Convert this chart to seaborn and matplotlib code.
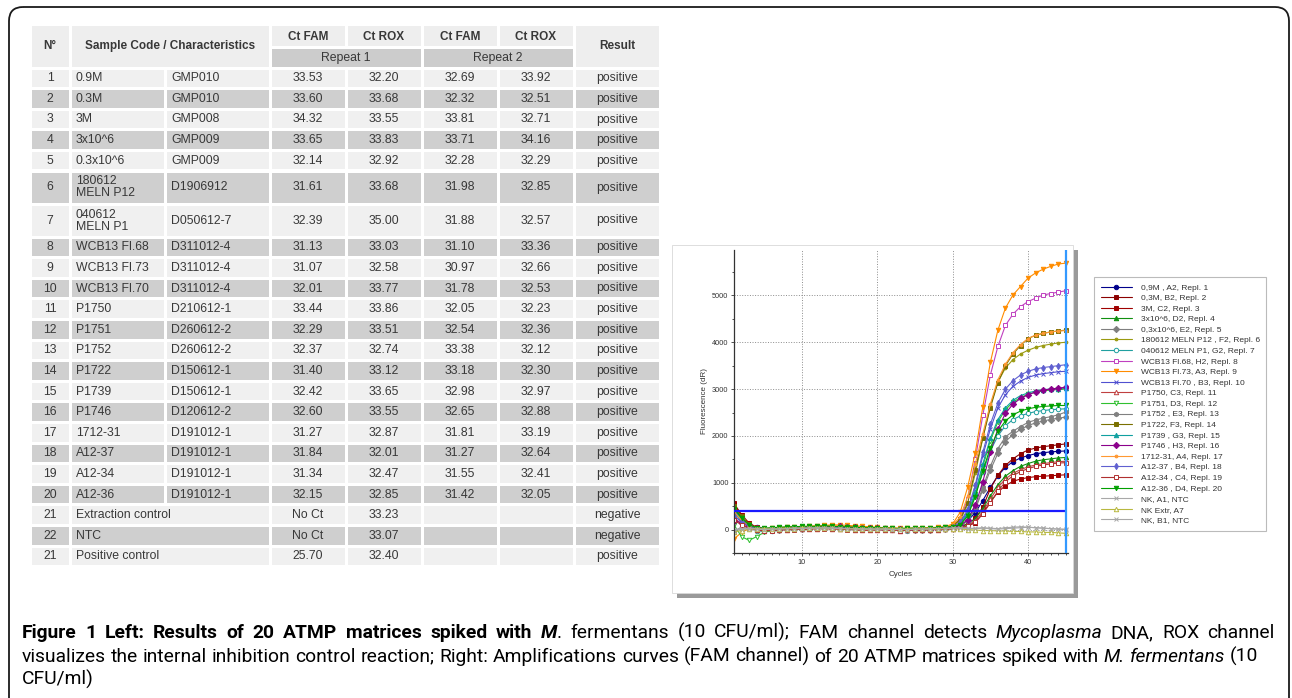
import re
import numpy as np
import pandas as pd
import seaborn as sns
import matplotlib.pyplot as plt
from matplotlib.patches import Rectangle, FancyBboxPatch
from matplotlib import font_manager

## Table data (left panel)
nums = [1, 2, 3, 4, 5, 6, 7, 8, 9, 10, 11, 12, 13, 14, 15, 16, 17, 18, 19, 20, 21, 22, 21]
names = ['0.9M', '0.3M', '3M', '3x10^6', '0.3x10^6', '180612\nMELN P12', '040612\nMELN P1',
         'WCB13 Fl.68', 'WCB13 Fl.73', 'WCB13 Fl.70', 'P1750', 'P1751', 'P1752', 'P1722',
         'P1739', 'P1746', '1712-31', 'A12-37', 'A12-34', 'A12-36',
         'Extraction control', 'NTC', 'Positive control']
codes = ['GMP010', 'GMP010', 'GMP008', 'GMP009', 'GMP009', 'D1906912', 'D050612-7',
         'D311012-4', 'D311012-4', 'D311012-4', 'D210612-1', 'D260612-2', 'D260612-2',
         'D150612-1', 'D150612-1', 'D120612-2', 'D191012-1', 'D191012-1', 'D191012-1',
         'D191012-1', '', '', '']
fam1 = ['33.53', '33.60', '34.32', '33.65', '32.14', '31.61', '32.39', '31.13', '31.07', '32.01',
        '33.44', '32.29', '32.37', '31.40', '32.42', '32.60', '31.27', '31.84', '31.34', '32.15',
        'No Ct', 'No Ct', '25.70']
rox1 = ['32.20', '33.68', '33.55', '33.83', '32.92', '33.68', '35.00', '33.03', '32.58', '33.77',
        '33.86', '33.51', '32.74', '33.12', '33.65', '33.55', '32.87', '32.01', '32.47', '32.85',
        '33.23', '33.07', '32.40']
fam2 = ['32.69', '32.32', '33.81', '33.71', '32.28', '31.98', '31.88', '31.10', '30.97', '31.78',
        '32.05', '32.54', '33.38', '33.18', '32.98', '32.65', '31.81', '31.27', '31.55', '31.42',
        '', '', '']
rox2 = ['33.92', '32.51', '32.71', '34.16', '32.29', '32.85', '32.57', '33.36', '32.66', '32.53',
        '32.23', '32.36', '32.12', '32.30', '32.97', '32.88', '33.19', '32.64', '32.41', '32.05',
        '', '', '']
results = ['positive'] * 20 + ['negative', 'negative', 'positive']

## Amplification curves (right panel), fluorescence dR per cycle
cycles = list(range(1, 46))
threshold = 400
s01 = [450, 250, 110, 50, 20, 10, 20, 30, 30, 40, 40, 50, 50, 60, 50, 40, 40, 30, 30, 20, 30, 20, 10, 10, 20, 10, 20, 30, 40, 60,
       100, 190, 360, 620, 900, 1150, 1330, 1450, 1530, 1580, 1620, 1640, 1660, 1670, 1680]
s02 = [520, 300, 120, 40, 10, 0, 10, 20, 30, 30, 40, 40, 50, 40, 30, 20, 20, 10, 10, 20, 20, 10, 0, 0, 10, 0, 10, 20, 30, 50,
       70, 120, 240, 480, 870, 1160, 1370, 1510, 1620, 1700, 1740, 1770, 1790, 1810, 1830]
s03 = [560, 320, 140, 50, 20, 10, 0, 10, 20, 20, 30, 30, 40, 30, 20, 20, 10, 0, 0, 10, 10, 0, -10, 0, 10, 0, 0, 10, 20, 20,
       40, 70, 150, 340, 590, 800, 940, 1030, 1080, 1110, 1130, 1140, 1150, 1160, 1170]
s04 = [480, 260, 100, 30, 0, 10, 20, 30, 30, 40, 40, 40, 50, 40, 40, 30, 30, 20, 20, 30, 20, 20, 10, 10, 10, 20, 20, 20, 30, 40,
       60, 110, 230, 450, 720, 960, 1140, 1260, 1350, 1410, 1460, 1490, 1510, 1530, 1540]
s05 = [400, 220, 80, 20, 0, -10, 0, 10, 20, 20, 30, 40, 40, 40, 30, 30, 20, 20, 10, 10, 20, 10, 0, 10, 0, -10, 0, 10, 20, 30,
       80, 190, 430, 850, 1270, 1630, 1880, 2030, 2140, 2220, 2280, 2320, 2350, 2380, 2400]
s06 = [350, 200, 90, 30, 20, 20, 30, 40, 40, 40, 50, 60, 60, 60, 50, 50, 40, 40, 30, 30, 30, 20, 20, 20, 30, 20, 30, 40, 50, 70,
       200, 540, 1200, 1950, 2650, 3150, 3450, 3630, 3750, 3830, 3890, 3930, 3960, 3985, 4000]
s07 = [380, 180, 60, -20, -40, -20, 0, 10, 20, 30, 30, 40, 40, 30, 30, 20, 20, 10, 20, 20, 10, 10, 0, 0, 10, 10, 10, 20, 30, 40,
       120, 320, 740, 1220, 1680, 2000, 2220, 2350, 2430, 2480, 2520, 2540, 2560, 2570, 2580]
s08 = [420, 240, 100, 30, 10, 10, 20, 30, 30, 40, 50, 50, 60, 50, 50, 40, 40, 30, 30, 30, 20, 20, 10, 20, 20, 10, 20, 30, 40, 80,
       230, 660, 1500, 2440, 3300, 3910, 4360, 4600, 4760, 4870, 4940, 5010, 5040, 5070, 5100]
s09 = [-200, -60, 20, 30, 20, 30, 40, 50, 60, 60, 70, 80, 90, 100, 100, 90, 80, 70, 60, 50, 40, 40, 30, 30, 30, 40, 40, 50, 60, 120,
       370, 910, 1640, 2620, 3570, 4260, 4730, 5010, 5190, 5370, 5480, 5560, 5620, 5670, 5690]
s10 = [300, 160, 60, 10, -10, 0, 10, 20, 20, 30, 30, 40, 40, 40, 30, 30, 20, 20, 20, 10, 10, 10, 0, 0, 0, 10, 10, 20, 30, 50,
       140, 390, 900, 1580, 2150, 2600, 2880, 3060, 3170, 3250, 3300, 3330, 3350, 3370, 3380]
s11 = [250, 120, 40, 0, -20, -10, 0, 0, 10, 10, 20, 20, 30, 20, 20, 10, 0, -10, -10, 0, 0, -10, -20, -10, 0, -10, 0, 0, 10, 20,
       40, 80, 190, 390, 650, 900, 1080, 1200, 1280, 1340, 1380, 1410, 1430, 1450, 1460]
s12 = [100, -150, -230, -150, -60, -20, 0, 10, 20, 30, 30, 40, 50, 40, 40, 30, 30, 20, 20, 20, 10, 10, 0, 10, 10, 0, 10, 20, 30, 40,
       110, 310, 760, 1350, 1900, 2300, 2560, 2720, 2820, 2890, 2930, 2960, 2980, 2990, 3000]
s13 = [-50, 60, 50, 20, 0, 0, 10, 20, 30, 30, 40, 40, 40, 30, 30, 20, 20, 10, 10, 10, 10, 0, -10, -20, -10, -10, 0, 10, 10, 30,
       70, 180, 460, 900, 1350, 1730, 1980, 2100, 2200, 2290, 2340, 2380, 2410, 2450, 2510]
s14 = [500, 280, 120, 40, 10, 10, 20, 30, 40, 40, 50, 50, 60, 50, 40, 40, 30, 30, 20, 20, 20, 10, 10, 10, 20, 20, 20, 30, 50, 80,
       220, 570, 1280, 1960, 2600, 3140, 3500, 3750, 3930, 4080, 4150, 4190, 4220, 4240, 4260]
s15 = [420, 230, 90, 20, 0, 10, 20, 20, 30, 40, 40, 40, 50, 50, 40, 30, 30, 20, 20, 20, 20, 10, 10, 0, 10, 10, 20, 20, 30, 50,
       120, 340, 800, 1400, 1950, 2350, 2600, 2760, 2860, 2920, 2960, 2990, 3000, 3010, 3020]
s16 = [180, 150, 80, 30, 10, 10, 20, 30, 30, 40, 40, 50, 50, 60, 70, 60, 50, 40, 30, 30, 20, 20, 10, 10, 20, 10, 20, 20, 30, 40,
       90, 210, 520, 1020, 1650, 2150, 2480, 2680, 2800, 2880, 2940, 2980, 3000, 3020, 3040]
s17 = [380, 200, 80, 30, 20, 30, 40, 50, 50, 60, 70, 80, 80, 90, 80, 70, 60, 50, 40, 40, 30, 30, 20, 20, 30, 30, 30, 40, 60, 100,
       270, 710, 1400, 2050, 2680, 3200, 3530, 3780, 3950, 4080, 4150, 4190, 4220, 4240, 4250]
s18 = [300, 170, 70, 20, 0, 10, 20, 20, 30, 30, 40, 40, 40, 40, 30, 30, 20, 20, 20, 10, 10, 10, 0, 10, 10, 10, 20, 20, 30, 50,
       160, 430, 950, 1650, 2250, 2700, 3000, 3180, 3300, 3380, 3430, 3460, 3480, 3500, 3520]
s19 = [200, 100, 30, -10, -30, -20, -10, 0, 0, 10, 10, 20, 20, 10, 10, 0, 0, -10, -10, 0, -10, -10, -20, -10, -10, -10, 0, 0, 10, 20,
       30, 70, 160, 340, 570, 820, 1020, 1150, 1240, 1300, 1350, 1380, 1400, 1420, 1430]
s20 = [450, 250, 100, 40, 30, 40, 50, 60, 60, 70, 70, 70, 80, 70, 60, 60, 50, 40, 40, 40, 30, 30, 20, 30, 30, 30, 30, 40, 50, 60,
       100, 290, 700, 1250, 1750, 2100, 2320, 2450, 2530, 2580, 2610, 2630, 2640, 2650, 2650]
s21 = [0, 20, 30, 20, 10, 10, 20, 20, 30, 30, 30, 40, 40, 30, 30, 20, 20, 20, 10, 10, 20, 10, 10, 0, 10, 10, 20, 20, 30, 30,
       40, 30, 20, 30, 20, 10, 20, 30, 40, 50, 40, 30, 20, 10, 10]
s22 = [-50, -20, 10, 20, 10, 10, 20, 20, 20, 30, 30, 30, 30, 30, 20, 20, 20, 10, 10, 10, 10, 10, 10, 10, 10, 10, 10, 10, 20, 20,
       10, 0, -10, -20, -20, -30, -30, -40, -40, -50, -50, -60, -60, -70, -80]
s23 = [-20, 10, 20, 10, 0, 10, 10, 20, 20, 20, 30, 30, 30, 30, 20, 20, 10, 10, 10, 10, 10, 0, 0, 0, 10, 10, 10, 20, 20, 30,
       30, 20, 30, 40, 30, 20, 40, 50, 60, 50, 40, 30, 20, 10, 0]
curves = [s01, s02, s03, s04, s05, s06, s07, s08, s09, s10, s11, s12,
          s13, s14, s15, s16, s17, s18, s19, s20, s21, s22, s23]
labels = ['0,9M , A2, Repl. 1', '0,3M, B2, Repl. 2', '3M, C2, Repl. 3', '3x10^6, D2, Repl. 4',
          '0,3x10^6, E2, Repl. 5', '180612 MELN P12 , F2, Repl. 6', '040612 MELN P1, G2, Repl. 7',
          'WCB13 Fl.68, H2, Repl. 8', 'WCB13 Fl.73, A3, Repl. 9', 'WCB13 Fl.70 , B3, Repl. 10',
          'P1750, C3, Repl. 11', 'P1751, D3, Repl. 12', 'P1752 , E3, Repl. 13', 'P1722, F3, Repl. 14',
          'P1739 , G3, Repl. 15', 'P1746 , H3, Repl. 16', '1712-31, A4, Repl. 17', 'A12-37 , B4, Repl. 18',
          'A12-34 , C4, Repl. 19', 'A12-36 , D4, Repl. 20', 'NK, A1, NTC', 'NK Extr, A7', 'NK, B1, NTC']

# (color, marker, filled)
styles = [('#00008b', 'o', True), ('#8b0000', 's', True), ('#a00000', 's', True), ('#109010', '^', True),
          ('#7f7f7f', 'D', True), ('#9a9a10', '.', True), ('#20a0a0', 'o', False), ('#c040c0', 's', False),
          ('#ff8c00', 'v', True), ('#5050d0', 'x', True), ('#c04040', '^', False), ('#30c030', 'v', False),
          ('#808080', 'h', True), ('#7a7000', 's', True), ('#10a0a0', '^', True), ('#8b008b', 'D', True),
          ('#ff9933', '.', True), ('#6060d0', 'd', True), ('#b03030', 's', False), ('#00a000', 'v', True),
          ('#a8a8a8', 'x', True), ('#b8b840', '^', False), ('#a8a8a8', 'x', True)]

sns.set_style('white')
installed = {f.name for f in font_manager.fontManager.ttflist}
narrow = 'Liberation Sans Narrow' if 'Liberation Sans Narrow' in installed else 'Liberation Sans'
capfont = 'Roboto' if 'Roboto' in installed else 'Liberation Sans'
plt.rcParams['font.family'] = ['Liberation Sans', 'DejaVu Sans']

W, H = 1292, 698
fig = plt.figure(figsize=(W / 100, H / 100), dpi=100)
bg = fig.add_axes([0, 0, 1, 1])
bg.set_xlim(0, W)
bg.set_ylim(H, 0)
bg.axis('off')

# outer rounded frame (runs off the bottom)
bg.add_patch(FancyBboxPatch((9, 7), 1280, 760, boxstyle='round,pad=0,rounding_size=14',
                            fc='none', ec='#1a1a1a', lw=1.3))

## ---- table ----
txt = '#383838'
light, dark = '#f0f0f0', '#cfcfcf'
xb = [30, 70, 165.5, 270, 346, 422, 498, 574, 660]
tsize = 8.8 if narrow == 'Liberation Sans' else 10


def cell(x0, x1, y0, y1, fc):
    bg.add_patch(Rectangle((x0 + 1.5, y0 + 1.5), x1 - x0 - 3, y1 - y0 - 3, fc=fc, ec='none'))


def put(x, y, s, ha='center', size=tsize, **kw):
    bg.text(x, y, s, ha=ha, va='center', color=txt, family=narrow, fontsize=size, **kw)


hy0, hym, hy1 = 24.5, 47, 68
cell(xb[0], xb[1], hy0, hy1, '#eeeeee')
cell(xb[1], xb[3], hy0, hy1, '#eeeeee')
cell(xb[7], xb[8], hy0, hy1, '#eeeeee')
for i in range(3, 7):
    cell(xb[i], xb[i + 1], hy0, hym, '#eeeeee')
cell(xb[3], xb[5], hym, hy1, '#cccccc')
cell(xb[5], xb[7], hym, hy1, '#cccccc')
hs = tsize - 0.3
put((xb[0] + xb[1]) / 2, (hy0 + hy1) / 2, 'N°', size=hs, weight='bold')
put((xb[1] + xb[3]) / 2, (hy0 + hy1) / 2, 'Sample Code / Characteristics', size=hs, weight='bold')
put((xb[7] + xb[8]) / 2, (hy0 + hy1) / 2, 'Result', size=hs, weight='bold')
for i, h in zip(range(3, 7), ['Ct FAM', 'Ct ROX', 'Ct FAM', 'Ct ROX']):
    put((xb[i] + xb[i + 1]) / 2, (hy0 + hym) / 2 + 1, h, size=hs, weight='bold')
put((xb[3] + xb[5]) / 2, (hym + hy1) / 2, 'Repeat 1')
put((xb[5] + xb[7]) / 2, (hym + hy1) / 2, 'Repeat 2')

y = hy1
for r in range(len(nums)):
    h = 33 if '\n' in names[r] else 20.6
    fc = light if r % 2 == 0 else dark
    merged = codes[r] == ''
    cell(xb[0], xb[1], y, y + h, fc)
    if merged:
        cell(xb[1], xb[3], y, y + h, fc)
    else:
        cell(xb[1], xb[2], y, y + h, fc)
        cell(xb[2], xb[3], y, y + h, fc)
    for i in range(3, 8):
        cell(xb[i], xb[i + 1], y, y + h, fc)
    yc = y + h / 2
    put((xb[0] + xb[1]) / 2, yc, str(nums[r]))
    put(xb[1] + 6, yc, names[r], ha='left', linespacing=1.0)
    put(xb[2] + 6, yc, codes[r], ha='left')
    for i, col in zip(range(3, 7), [fam1, rox1, fam2, rox2]):
        put((xb[i] + xb[i + 1]) / 2, yc, col[r])
    put((xb[7] + xb[8]) / 2, yc, results[r])
    y += h

## ---- amplification plot ----
# screenshot frame with drop shadow
bg.add_patch(Rectangle((677, 250), 401, 348, fc='#9a9a9a', ec='none'))
bg.add_patch(Rectangle((672, 245), 401, 348, fc='white', ec='#d8d8d8', lw=0.6))

ax = fig.add_axes([734 / W, 1 - 553 / H, (1068 - 734) / W, (553 - 250) / H])
ax.set_zorder(2)
for vals, lab, (c, m, filled) in zip(curves, labels, styles):
    sns.lineplot(x=cycles, y=vals, ax=ax, color=c, marker=m, markersize=3.2 if m != '.' else 4,
                 markerfacecolor=c if filled else 'white', markeredgecolor=c, markeredgewidth=0.7,
                 lw=0.8, label=lab)
ax.hlines(threshold, cycles[0], cycles[-1], color='#1a1aff', lw=1.6, zorder=5)
ax.axvline(cycles[-1], color='#3399ff', lw=1.6, zorder=5)

ax.set_xlim(1, 45.3)
ax.set_ylim(-500, 5970)
ax.set_xticks([10, 20, 30, 40])
ax.set_xticks(cycles, minor=True)
ax.set_yticks(range(0, 6000, 1000))
ax.set_yticks(range(-500, 6000, 500), minor=True)
ax.grid(True, which='major', ls=':', color='#8c8c8c', lw=0.7)
for s in ['top', 'right']:
    ax.spines[s].set_visible(False)
for s in ['left', 'bottom']:
    ax.spines[s].set_color('#333333')
    ax.spines[s].set_linewidth(0.9)
ax.tick_params(which='both', labelsize=5.3, length=2, width=0.6, colors='#333333', pad=2,
               left=True, bottom=True)
ax.tick_params(which='minor', length=1.5)
ax.set_xlabel('Cycles', fontsize=5.8, color='#333333', labelpad=4)
ax.set_ylabel('Fluorescence (dR)', fontsize=5.8, color='#333333', labelpad=3)

leg = ax.legend(loc='upper left', bbox_to_anchor=(1094 / W, 1 - 277 / H), bbox_transform=fig.transFigure,
                fontsize=6, frameon=True, fancybox=False, edgecolor='#bbbbbb', framealpha=1,
                handlelength=3.7, labelspacing=0.33, borderpad=0.8, handletextpad=1.1, borderaxespad=0)
leg.get_frame().set_linewidth(0.8)
for t in leg.get_texts():
    t.set_color('#333333')

## ---- caption (justified like the journal layout) ----
renderer = fig.canvas.get_renderer()
bold = dict(weight='bold')
ital = dict(style='italic')
bital = dict(weight='bold', style='italic')
norm = dict()
cap_lines = [
    [('Figure 1 Left: Results of 20 ATMP matrices spiked with ', bold), ('M', bital),
     ('. fermentans (10 CFU/ml); FAM channel detects ', norm), ('Mycoplasma', ital),
     (' DNA, ROX channel', norm)],
    [('visualizes the internal inhibition control reaction; Right: Amplifications curves (FAM channel) of 20 ATMP matrices spiked with ', norm),
     ('M. fermentans', ital), (' (10', norm)],
    [('CFU/ml)', norm)],
]
cap_right = [1275, 1258, None]


def width(s, size, props):
    a = bg.text(0, 0, s + '|', fontsize=size, family=capfont, **props)
    b = bg.text(0, 0, '|', fontsize=size, family=capfont, **props)
    w = a.get_window_extent(renderer).width - b.get_window_extent(renderer).width
    a.remove()
    b.remove()
    return w


ref = 10
w2 = sum(width(s, ref, p) for s, p in cap_lines[1])
cap_size = ref * (1258 - 22) / w2
for line, yb, right in zip(cap_lines, [638, 661.5, 685], cap_right):
    segs = [(t, p) for s, p in line for t in re.split(r'( )', s) if t]
    widths = [width(t, cap_size, p) for t, p in segs]
    nsp = sum(1 for t, _ in segs if t == ' ')
    extra = (right - 22 - sum(widths)) / nsp if right and nsp else 0
    x = 22
    for (t, p), w in zip(segs, widths):
        if t == ' ':
            x += w + extra
            continue
        bg.text(x, yb, t, fontsize=cap_size, family=capfont, va='baseline', ha='left', color='black', **p)
        x += w

fig.savefig('out.png', dpi=100, facecolor='white')
